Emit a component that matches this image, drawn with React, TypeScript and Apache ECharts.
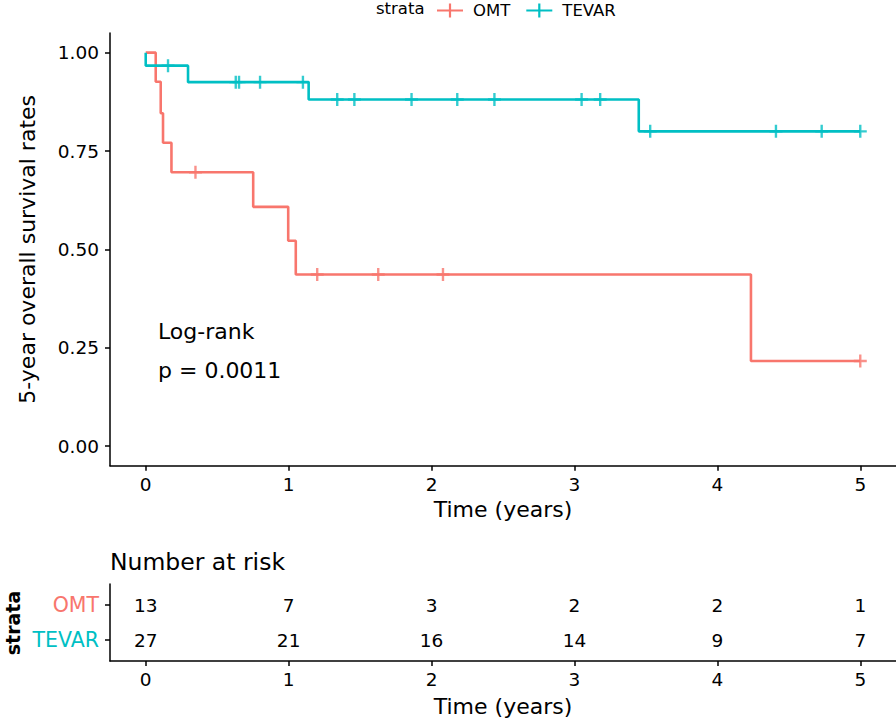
import React, { useEffect, useRef } from "react";
import * as echarts from "echarts";

// ---- Data ----
const strata = ["OMT", "TEVAR"];
const colors = ["#F8766D", "#00BFC4"];

// Kaplan-Meier steps: [time (years), survival]
const omtSteps: [number, number][] = [
  [0, 1.0], [0.07, 0.926], [0.105, 0.846], [0.121, 0.771], [0.18, 0.696],
  [0.752, 0.608], [0.997, 0.522], [1.05, 0.436], [4.235, 0.216], [5.0, 0.216],
];
const tevarSteps: [number, number][] = [
  [0, 1.0], [0, 0.967], [0.296, 0.925], [1.14, 0.881], [3.45, 0.8], [5.0, 0.8],
];
// Censored observations: [time, survival]
const omtCensored: [number, number][] = [
  [0.348, 0.696], [1.2, 0.436], [1.627, 0.436], [2.08, 0.436], [5.0, 0.216],
];
const tevarCensored: [number, number][] = [
  [0.156, 0.967], [0.63, 0.925], [0.653, 0.925], [0.8, 0.925], [1.1, 0.925],
  [1.34, 0.881], [1.46, 0.881], [1.86, 0.881], [2.18, 0.881], [2.44, 0.881],
  [3.05, 0.881], [3.18, 0.881], [3.53, 0.8], [4.41, 0.8], [4.73, 0.8], [5.0, 0.8],
];

const xTicks = [0, 1, 2, 3, 4, 5];
const yTicks = [0, 0.25, 0.5, 0.75, 1];
const riskTimes = [0, 1, 2, 3, 4, 5];
const riskOMT = [13, 7, 3, 2, 2, 1];
const riskTEVAR = [27, 21, 16, 14, 9, 7];

const FONT = "DejaVu Sans";
const PLUS = "path://M4.9,0 L7.1,0 L7.1,12 L4.9,12 Z M0,4.9 L12,4.9 L12,7.1 L0,7.1 Z";
const LEGEND_ICON = "path://M0,5.9 L26,5.9 L26,8.1 L0,8.1 Z M11.9,0 L14.1,0 L14.1,14 L11.9,14 Z";

export default function App() {
  const ref = useRef<HTMLDivElement>(null);
  useEffect(() => {
    if (!ref.current) return;
    const chart = echarts.init(ref.current, undefined, { renderer: "svg" });

    const axisLineStyle = { color: "#000", width: 1.5 };
    const xAxisBase = (gridIndex: number, nameGap: number) => ({
      type: "value",
      gridIndex,
      min: -0.25,
      max: 5.25,
      name: "Time (years)",
      nameLocation: "middle",
      nameGap,
      nameTextStyle: { color: "#000", fontSize: 22, fontFamily: FONT },
      axisLine: { show: true, onZero: false, lineStyle: axisLineStyle },
      axisTick: { show: true, length: 5, lineStyle: axisLineStyle, customValues: xTicks },
      axisLabel: {
        color: "#000", fontSize: 18.5, fontFamily: FONT, margin: 9,
        customValues: xTicks, formatter: (v: number) => String(v),
      },
      splitLine: { show: false },
    });

    const riskData = (counts: number[], row: number) =>
      riskTimes.map((t, i) => [t, row, counts[i]]);

    const riskLabel = {
      show: true, position: "inside", color: "#000", opacity: 1, fontSize: 18.5, fontFamily: FONT,
      textBorderWidth: 0, textBorderColor: "transparent",
      formatter: (p: any) => String(p.value[2]),
    };

    chart.setOption({
      animation: false,
      backgroundColor: "#fff",
      textStyle: { fontFamily: FONT },
      grid: [
        { left: 110, right: 0, top: 33, bottom: 259.3, containLabel: false },
        { left: 110, right: 0, top: 584, bottom: 64, containLabel: false },
      ],
      legend: {
        left: 437,
        top: 2,
        padding: 0,
        itemGap: 16,
        itemWidth: 26,
        itemHeight: 14,
        data: strata.map((s, i) => ({ name: s, icon: LEGEND_ICON, itemStyle: { color: colors[i] } })),
        textStyle: { color: "#000", fontSize: 16.5, fontFamily: FONT, padding: [0, 0, 0, 5] },
      },
      xAxis: [xAxisBase(0, 33), xAxisBase(1, 34)],
      yAxis: [
        {
          type: "value",
          gridIndex: 0,
          min: -0.05,
          max: 1.05,
          name: "5-year overall survival rates",
          nameLocation: "middle",
          nameGap: 72,
          nameTextStyle: { color: "#000", fontSize: 22, fontFamily: FONT },
          axisLine: { show: true, onZero: false, lineStyle: axisLineStyle },
          axisTick: { show: true, length: 5, lineStyle: axisLineStyle, customValues: yTicks },
          axisLabel: {
            color: "#000", fontSize: 18.5, fontFamily: FONT, margin: 11,
            customValues: yTicks, formatter: (v: number) => v.toFixed(2),
          },
          splitLine: { show: false },
        },
        {
          type: "value",
          gridIndex: 1,
          min: 0.4,
          max: 2.6,
          axisLine: { show: true, onZero: false, lineStyle: axisLineStyle },
          axisTick: { show: true, length: 5, lineStyle: axisLineStyle, customValues: [1, 2] },
          axisLabel: {
            margin: 11,
            customValues: [1, 2],
            formatter: (v: number) => (v === 2 ? "{omt|OMT}" : "{tev|TEVAR}"),
            rich: {
              omt: { color: colors[0], fontSize: 20.5, fontFamily: FONT },
              tev: { color: colors[1], fontSize: 20.5, fontFamily: FONT },
            },
          },
          splitLine: { show: false },
        },
      ],
      series: [
        {
          name: "OMT", type: "line", step: "end", xAxisIndex: 0, yAxisIndex: 0,
          data: omtSteps, showSymbol: false, color: colors[0],
          lineStyle: { width: 2.6, color: colors[0] },
        },
        {
          name: "TEVAR", type: "line", step: "end", xAxisIndex: 0, yAxisIndex: 0,
          data: tevarSteps, showSymbol: false, color: colors[1],
          lineStyle: { width: 2.6, color: colors[1] },
        },
        {
          name: "OMT censored", type: "scatter", xAxisIndex: 0, yAxisIndex: 0,
          data: omtCensored, symbol: PLUS, symbolSize: 13, itemStyle: { color: colors[0] },
        },
        {
          name: "TEVAR censored", type: "scatter", xAxisIndex: 0, yAxisIndex: 0,
          data: tevarCensored, symbol: PLUS, symbolSize: 13, itemStyle: { color: colors[1] },
        },
        {
          name: "OMT risk", type: "scatter", xAxisIndex: 1, yAxisIndex: 1,
          data: riskData(riskOMT, 2), symbolSize: 0, itemStyle: { color: "#000" },
          label: riskLabel,
        },
        {
          name: "TEVAR risk", type: "scatter", xAxisIndex: 1, yAxisIndex: 1,
          data: riskData(riskTEVAR, 1), symbolSize: 0, itemStyle: { color: "#000" },
          label: riskLabel,
        },
      ],
      graphic: [
        {
          type: "text", left: 376, top: 0,
          style: { text: "strata", fill: "#000", fontSize: 16.5, fontFamily: FONT },
        },
        {
          type: "text", x: 158, y: 331,
          style: { text: "Log-rank", fill: "#000", fontSize: 22, fontFamily: FONT, verticalAlign: "middle" },
        },
        {
          type: "text", x: 158, y: 370,
          style: { text: "p = 0.0011", fill: "#000", fontSize: 22, fontFamily: FONT, verticalAlign: "middle" },
        },
        {
          type: "text", x: 110, y: 562,
          style: { text: "Number at risk", fill: "#000", fontSize: 23.5, fontFamily: FONT, verticalAlign: "middle" },
        },
        {
          type: "text", x: 13, y: 623, rotation: Math.PI / 2,
          style: {
            text: "strata", fill: "#000", fontSize: 19, fontWeight: "bold", fontFamily: FONT,
            align: "center", verticalAlign: "middle",
          },
        },
      ],
    });
    return () => chart.dispose();
  }, []);
  return (
    <div
      ref={ref}
      style={{ position: "fixed", left: 0, top: 0, width: 896, height: 725, background: "#fff" }}
    />
  );
}
